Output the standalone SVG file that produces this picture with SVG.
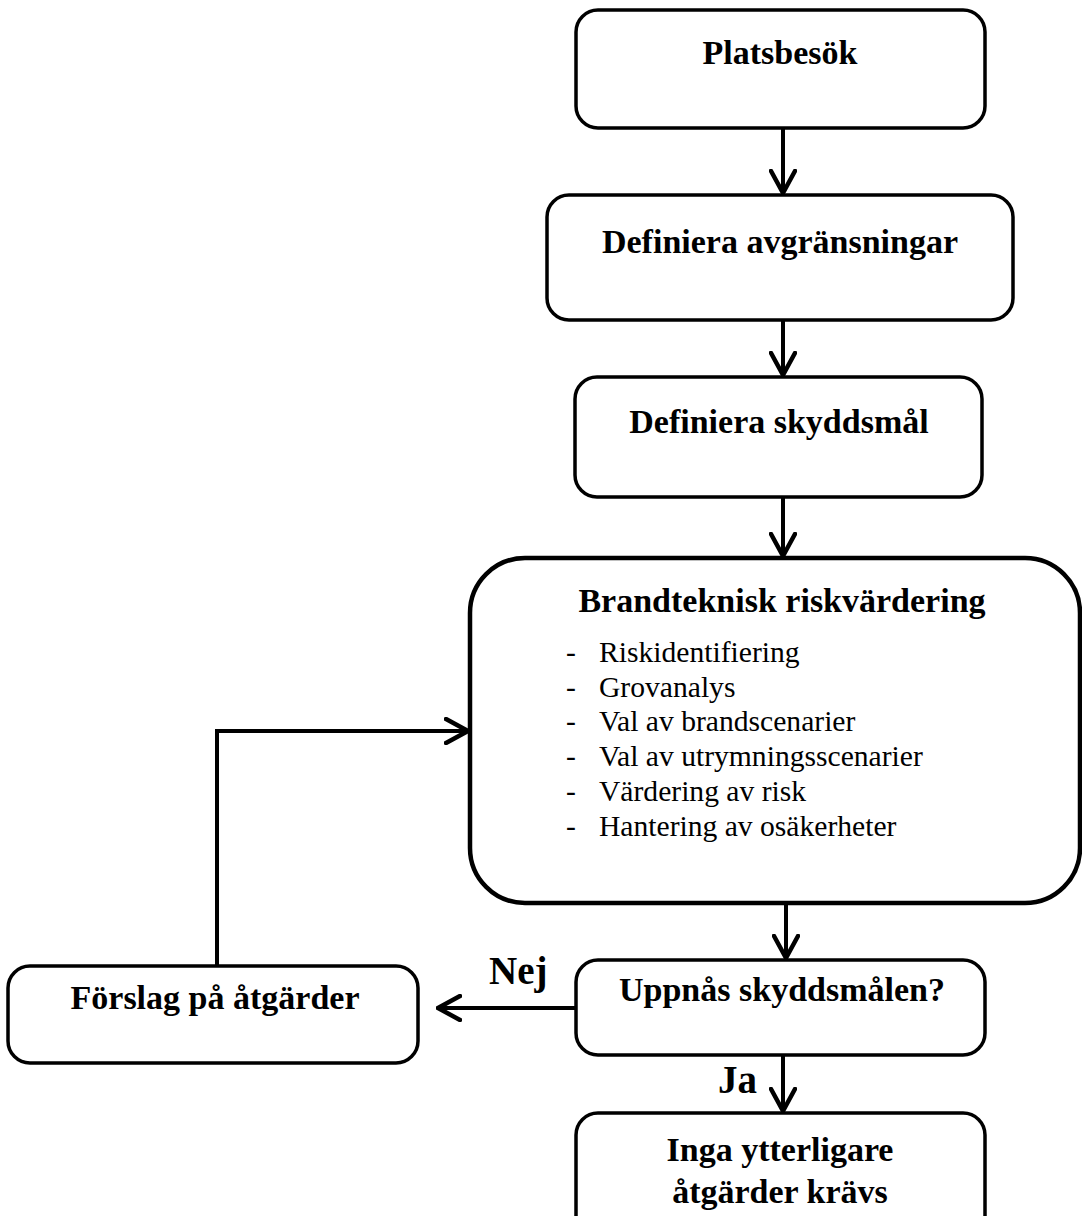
<svg xmlns="http://www.w3.org/2000/svg" width="1082" height="1216" viewBox="0 0 1082 1216">
<style>
.box{fill:#fff;stroke:#000;stroke-width:3.5}
.big{fill:#fff;stroke:#000;stroke-width:4.5}
.b{font-family:"Liberation Serif","Times New Roman",serif;font-weight:bold;font-size:34px;fill:#000;text-anchor:middle}
.r{font-family:"Liberation Serif","Times New Roman",serif;font-weight:normal;font-style:normal;font-size:29.6px;fill:#000}
.lbl{font-family:"Liberation Serif","Times New Roman",serif;font-weight:bold;font-size:39px;fill:#000}
.c{fill:none;stroke:#000;stroke-width:4}
</style>
<defs>
<marker id="ah" viewBox="0 0 26 28" refX="24" refY="14" markerWidth="26" markerHeight="28" markerUnits="userSpaceOnUse" orient="auto">
<path d="M2,2 L24,14 L2,26" fill="none" stroke="#000" stroke-width="4.5" stroke-linecap="round" stroke-linejoin="miter"/>
</marker>
</defs>
<rect width="1082" height="1216" fill="#fff"/>
<g id="connectors">
<line class="c" x1="783" y1="128" x2="783" y2="193" marker-end="url(#ah)"/>
<line class="c" x1="783" y1="320" x2="783" y2="375" marker-end="url(#ah)"/>
<line class="c" x1="783" y1="497" x2="783" y2="556" marker-end="url(#ah)"/>
<line class="c" x1="786" y1="903" x2="786" y2="958" marker-end="url(#ah)"/>
<line class="c" x1="576" y1="1008" x2="438" y2="1008" marker-end="url(#ah)"/>
<polyline class="c" points="217,966 217,731 468,731" marker-end="url(#ah)"/>
<line class="c" x1="783" y1="1055" x2="783" y2="1111" marker-end="url(#ah)"/>
<text class="lbl" x="489" y="984">Nej</text>
<text class="lbl" x="718" y="1093">Ja</text>
</g>
<g id="n1">
<rect class="box" x="576" y="10" width="409" height="118" rx="22"/>
<text class="b" x="780" y="64">Platsbesök</text>
</g>
<g id="n2">
<rect class="box" x="547" y="195" width="466" height="125" rx="22"/>
<text class="b" x="780" y="253">Definiera avgränsningar</text>
</g>
<g id="n3">
<rect class="box" x="575" y="377" width="407" height="120" rx="22"/>
<text class="b" x="779" y="433">Definiera skyddsmål</text>
</g>
<g id="n4">
<rect class="big" x="470" y="558" width="610" height="345" rx="55"/>
<text class="b" x="782" y="612">Brandteknisk riskvärdering</text>
<text class="r" x="566" y="662">-</text><text class="r" x="599" y="662">Riskidentifiering</text>
<text class="r" x="566" y="697">-</text><text class="r" x="599" y="697">Grovanalys</text>
<text class="r" x="566" y="731">-</text><text class="r" x="599" y="731">Val av brandscenarier</text>
<text class="r" x="566" y="766">-</text><text class="r" x="599" y="766">Val av utrymningsscenarier</text>
<text class="r" x="566" y="801">-</text><text class="r" x="599" y="801">Värdering av risk</text>
<text class="r" x="566" y="836">-</text><text class="r" x="599" y="836">Hantering av osäkerheter</text>
</g>
<g id="n5">
<rect class="box" x="576" y="960" width="409" height="95" rx="22"/>
<text class="b" x="782" y="1001">Uppnås skyddsmålen?</text>
</g>
<g id="n6">
<rect class="box" x="8" y="966" width="410" height="97" rx="22"/>
<text class="b" x="215" y="1009">Förslag på åtgärder</text>
</g>
<g id="n7">
<rect class="box" x="576" y="1113" width="409" height="130" rx="22"/>
<text class="b" x="780" y="1161">Inga ytterligare</text>
<text class="b" x="780" y="1203">åtgärder krävs</text>
</g>
</svg>
